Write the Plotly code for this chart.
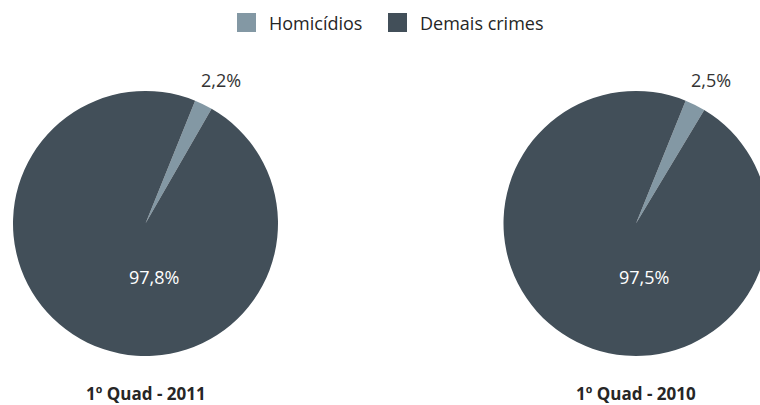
import plotly.graph_objects as go

# ---- data ----
categories = ["Homicídios", "Demais crimes"]
values_2011 = [2.2, 97.8]
values_2010 = [2.5, 97.5]
period_titles = ["1º Quad - 2011", "1º Quad - 2010"]
colors = ["#8398A4", "#424F59"]

W, H = 770, 405

def px_x(v):
    return v / W

def px_y(v):
    return 1 - v / H

def fmt(v):
    return f"{v:.1f}".replace(".", ",") + "%"

R = 132.5
centers = [(145.5, 223.5), (636.0, 223.5)]
# label offsets from pie centre (pixels): small slice (outside), big slice (inside)
label_offsets = [(75, -144), (8, 53)]
label_colors = ["#333333", "#FFFFFF"]

fig = go.Figure()
annotations = []
for (cx, cy), vals, name in zip(centers, [values_2011, values_2010], period_titles):
    fig.add_trace(go.Pie(
        labels=categories,
        values=vals,
        name=name,
        sort=False,
        direction="clockwise",
        rotation=22,
        marker=dict(colors=colors, line=dict(width=0)),
        textinfo="none",
        showlegend=False,
        hoverinfo="label+percent",
        domain=dict(x=[px_x(cx - R), px_x(cx + R)], y=[px_y(cy + R), px_y(cy - R)]),
    ))
    for v, (dx, dy), lc in zip(vals, label_offsets, label_colors):
        annotations.append(dict(
            x=px_x(cx + dx), y=px_y(cy + dy), xref="paper", yref="paper",
            text=fmt(v), showarrow=False, xanchor="center", yanchor="middle",
            font=dict(family="Open Sans", size=18, color=lc),
        ))

for (cx, cy), t in zip(centers, period_titles):
    annotations.append(dict(
        x=px_x(cx), y=px_y(393), xref="paper", yref="paper",
        text="<b>" + t + "</b>", showarrow=False,
        xanchor="center", yanchor="middle",
        font=dict(family="Open Sans", size=17, color="#262626"),
    ))

# manual legend
legend_x = [237, 388]
shapes = []
for lx, cat, col in zip(legend_x, categories, colors):
    shapes.append(dict(type="rect", xref="paper", yref="paper",
                       x0=px_x(lx), x1=px_x(lx + 19), y0=px_y(32), y1=px_y(13),
                       fillcolor=col, line=dict(width=0)))
    annotations.append(dict(
        x=px_x(lx + 30), y=px_y(22.5), xref="paper", yref="paper",
        text=cat, showarrow=False, xanchor="left", yanchor="middle",
        font=dict(family="Open Sans", size=18, color="#262626"),
    ))

fig.update_layout(
    width=W, height=H,
    margin=dict(l=0, r=0, t=0, b=0),
    paper_bgcolor="white", plot_bgcolor="white",
    separators=",.",
    showlegend=False,
    annotations=annotations,
    shapes=shapes,
)

fig.write_html(
    "out.html",
    config={"displayModeBar": False},
    post_script="document.body.style.margin='0';document.body.style.overflow='hidden';document.documentElement.style.overflow='hidden';",
)
